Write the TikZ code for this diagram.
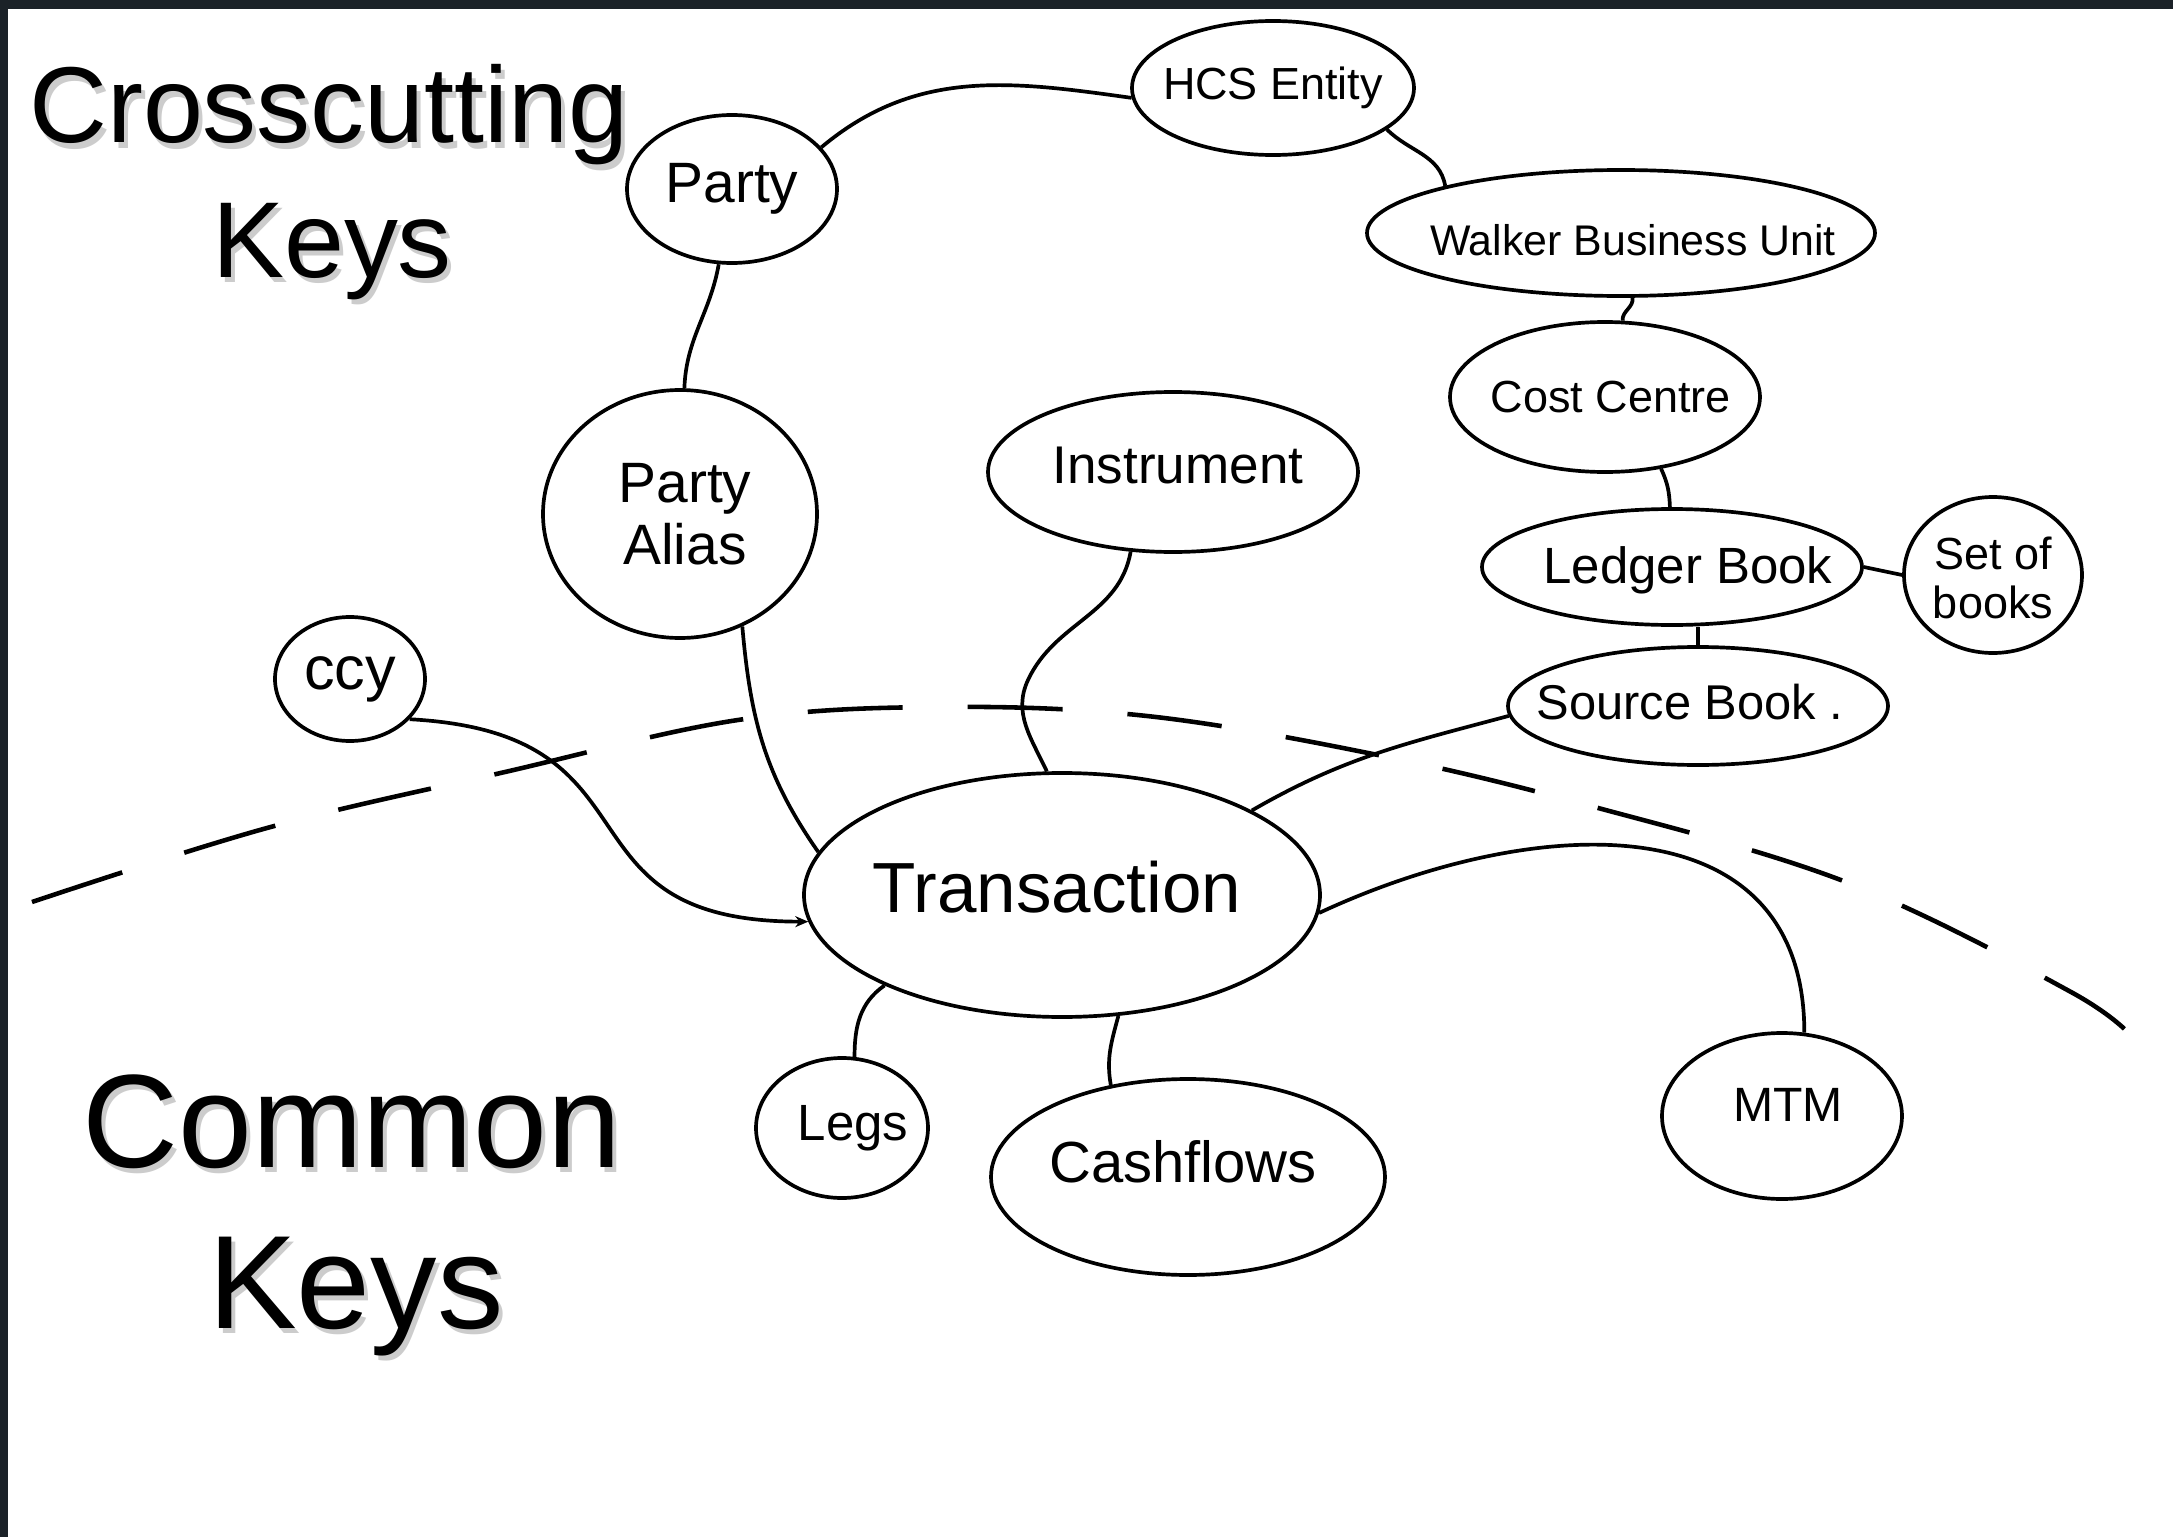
\documentclass[tikz,border=0pt]{standalone}
\usepackage{fontspec}
\setmainfont{Liberation Sans}
\usetikzlibrary{shapes.geometric,arrows.meta}
\definecolor{framecol}{HTML}{1B2228}

\begin{document}
\begin{tikzpicture}[x=0.1mm,y=-0.1mm,
  key/.style={ellipse, draw, line width=1.05pt, inner sep=0pt},
  lbl/.style={font=\fontsize{#1}{#1}\selectfont, inner sep=0pt},
  link/.style={line width=1.05pt},
  title/.style={font=\fontsize{#1}{#1}\selectfont, inner sep=0pt, anchor=base},
  shadowtext/.style={text=black!20},
  boundary/.style={line width=1.3pt, dash pattern=on 9.5mm off 6.5mm},
]
\useasboundingbox (0,0) rectangle (2173,1537);
\fill[white] (0,0) rectangle (2173,1537);
% dark slide frame along the top and left edges
\fill[framecol] (0,0) rectangle (2173,9);
\fill[framecol] (0,0) rectangle (8,1537);

% section titles with a soft drop shadow
\node[title=30.7pt, shadowtext] (crossS) at (333,148) {Crosscutting};
\node[title=30.7pt] (cross) at (329,143) {Crosscutting};
\node[title=30.7pt, shadowtext] (ckeysS) at (336,282) {Keys};
\node[title=30.7pt] (ckeys) at (332,277) {Keys};
\node[title=37.8pt, shadowtext] (commonS) at (356,1172) {Common};
\node[title=37.8pt] (common) at (352,1167) {Common};
\node[title=37.8pt, shadowtext] (mkeysS) at (360,1333) {Keys};
\node[title=37.8pt] (mkeys) at (356,1328) {Keys};

% boundary between crosscutting and common keys
\draw[boundary] plot[smooth, tension=0.6] coordinates {(32,902) (267,828) (505,772) (738,720) (937,707) (1147,716) (1378,755) (1587,805) (1846,882) (2071,992) (2135,1040)};

% key entities
\node[key, minimum width=21mm, minimum height=14.8mm,
  label={[lbl=16.2pt]center:Party}] (party) at (732,189) {};
\node[key, minimum width=28.2mm, minimum height=13.4mm,
  label={[lbl=12.8pt]center:HCS Entity}] (hcs) at (1273,88) {};
\node[key, minimum width=50.8mm, minimum height=12.6mm,
  label={[lbl=12.2pt, xshift=1.2mm, yshift=-0.7mm]center:Walker Business Unit}] (walker) at (1621,233) {};
\node[key, minimum width=31mm, minimum height=15mm,
  label={[lbl=12.8pt, xshift=0.6mm]center:Cost Centre}] (cost) at (1605,397) {};
\node[key, minimum width=38mm, minimum height=11.6mm,
  label={[lbl=14.5pt, xshift=1.6mm, yshift=-0.3mm]center:Ledger Book}] (ledger) at (1672,567) {};
\node[key, minimum width=17.8mm, minimum height=15.6mm,
  label={[inner sep=0pt, font=\fontsize{12.8pt}{14pt}\selectfont, align=center, yshift=-0.3mm]center:Set of\\books}] (setbooks) at (1993,575) {};
\node[key, minimum width=38mm, minimum height=11.8mm,
  label={[lbl=13.9pt, xshift=-0.8mm, yshift=0.4mm]center:Source Book .}] (source) at (1698,706) {};
\node[key, minimum width=37mm, minimum height=16mm,
  label={[lbl=15.1pt, xshift=0.5mm, yshift=0.7mm]center:Instrument}] (instrument) at (1173,472) {};
\node[key, minimum width=27.4mm, minimum height=24.8mm,
  label={[inner sep=0pt, font=\fontsize{16.2pt}{17.6pt}\selectfont, align=center, xshift=0.5mm]center:Party\\Alias}] (alias) at (680,514) {};
\node[key, minimum width=15mm, minimum height=12.4mm,
  label={[lbl=17.4pt]center:ccy}] (ccy) at (350,679) {};
\node[key, minimum width=51.6mm, minimum height=24.4mm,
  label={[lbl=20.2pt, xshift=-0.5mm, yshift=0.8mm]center:Transaction}] (trans) at (1062,895) {};
\node[key, minimum width=17.2mm, minimum height=14mm,
  label={[lbl=14.5pt, xshift=1.1mm]center:Legs}] (legs) at (842,1128) {};
\node[key, minimum width=39.4mm, minimum height=19.6mm,
  label={[lbl=16.5pt, xshift=-0.5mm, yshift=1.5mm]center:Cashflows}] (cash) at (1188,1177) {};
\node[key, minimum width=24mm, minimum height=16.6mm,
  label={[lbl=13.7pt, xshift=0.6mm, yshift=1.1mm]center:MTM}] (mtm) at (1782,1116) {};

% crosscutting hierarchy
\draw[link] (party.25) to[out=40,in=172] (hcs.184);
\draw[link] (hcs.-20) to[out=-45,in=100] (walker.165);
\draw[link] (walker.-80) to[out=-80,in=95] (cost.77);
\draw[link] (cost.-52) to[out=-65,in=92] (ledger.92);
\draw[link] (ledger.east) -- (setbooks.west);
\draw[link] (ledger.south -| source.north) -- (source.north);
\draw[link] (party.-100) to[out=-100,in=88] (alias.88);

% links into the transaction
\draw[link] (source.183) to[out=195,in=30] (trans.24);
\coordinate (instbend) at (1028,680);
\draw[link] (instrument.-118) to[out=-100,in=65] (instbend) to[out=-115,in=115] (trans.97);
\draw[link] (alias.-61) to[out=-85,in=125] (trans.170);
\draw[link, -{Stealth[length=1.3mm, width=1.1mm]}] (ccy.-34) to[out=-3,in=180,looseness=1.5] (trans.186);

% common keys hanging off the transaction
\draw[link] (trans.207) to[out=-145,in=90] (legs.80);
\draw[link] (trans.-65) to[out=-105,in=100] (cash.130);
\draw[link] (trans.-4) to[out=25,in=90,looseness=1.2] (mtm.75);
\end{tikzpicture}
\end{document}
